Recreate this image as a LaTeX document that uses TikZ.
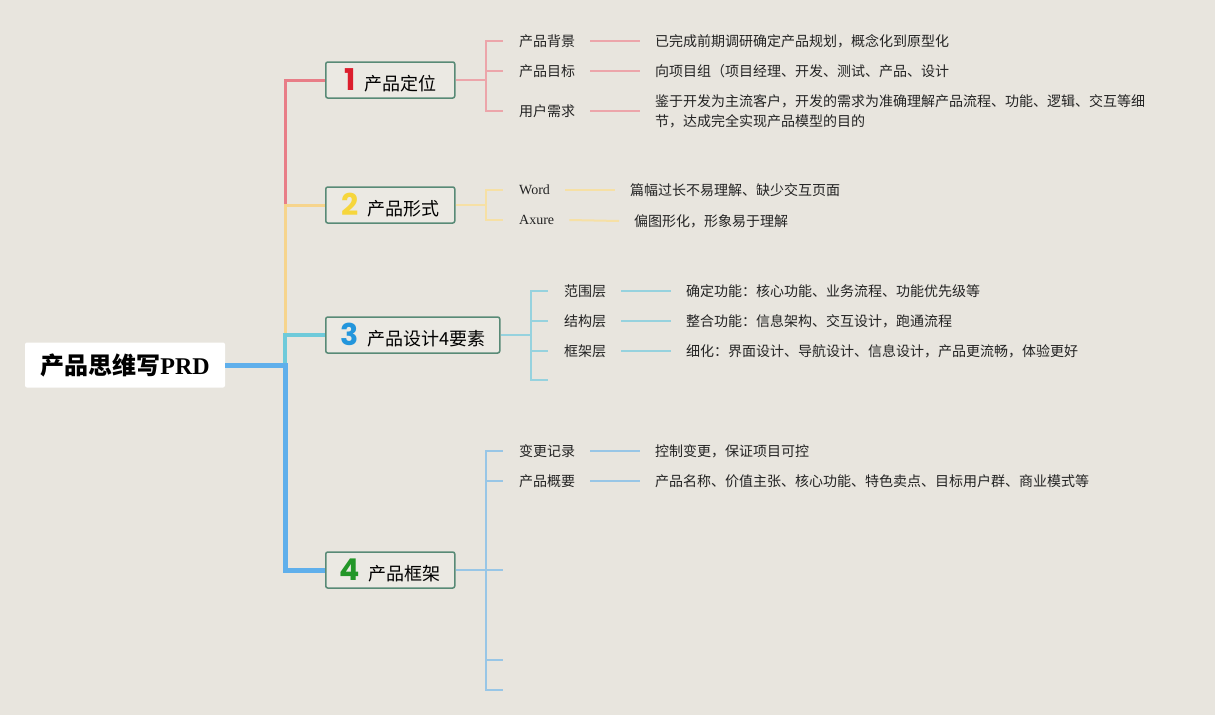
\documentclass[tikz,border=0pt]{standalone}
\usepackage{fontspec}
\setmainfont{Noto Sans CJK SC}
\newfontfamily\latinSerif{Liberation Serif}
\newfontfamily\numFont{Poppins}

\definecolor{paperBg}{RGB}{232,229,222}
\definecolor{boxFill}{RGB}{235,233,227}
\definecolor{boxEdge}{RGB}{88,138,118}
\definecolor{inkGray}{RGB}{35,35,35}
\definecolor{trunkRedC}{RGB}{232,125,135}
\definecolor{trunkYellowC}{RGB}{246,212,140}
\definecolor{trunkCyanC}{RGB}{110,202,218}
\definecolor{trunkBlueC}{RGB}{95,175,235}
\definecolor{twigRedC}{RGB}{236,165,170}
\definecolor{twigYellowC}{RGB}{246,224,165}
\definecolor{twigCyanC}{RGB}{150,210,222}
\definecolor{twigBlueC}{RGB}{152,198,230}
\definecolor{numRed}{RGB}{220,30,45}
\definecolor{numYellow}{RGB}{246,214,60}
\definecolor{numBlue}{RGB}{35,150,220}
\definecolor{numGreen}{RGB}{35,150,40}

\newcommand{\topicNum}[2]{{\numFont\bfseries\fontsize{30}{30}\selectfont\color{#1}#2}\hspace{9pt}}

\begin{document}
\begin{tikzpicture}[
        x=1pt, y=-1pt,
        every node/.style={font=\fontsize{14}{20}\selectfont, inner sep=0pt, text=inkGray},
        rootBox/.style={fill=white, rounded corners=2pt, minimum width=200pt, minimum height=45pt,
            font=\fontsize{24}{24}\selectfont\bfseries, text=black},
        topicBox/.style={draw=boxEdge, fill=boxFill, line width=1.5pt, rounded corners=2pt,
            anchor=west, minimum height=36pt, font=\fontsize{18}{18}\selectfont, text=black},
        leafText/.style={anchor=west},
        noteText/.style={anchor=west, align=left},
        trunkRed/.style={trunkRedC, line width=3pt},
        trunkYellow/.style={trunkYellowC, line width=3pt},
        trunkCyan/.style={trunkCyanC, line width=4pt},
        trunkBlue/.style={trunkBlueC, line width=5pt},
        twigRed/.style={twigRedC, line width=2pt},
        twigYellow/.style={twigYellowC, line width=2pt},
        twigCyan/.style={twigCyanC, line width=2pt},
        twigBlue/.style={twigBlueC, line width=2pt}
    ]
        \fill[paperBg] (0,0) rectangle (1215,715);
        \useasboundingbox (0,0) rectangle (1215,715);

        % Root and the four topics
        \node[rootBox] (root) at (125,365) {产品思维写{\latinSerif PRD}};
        \node[topicBox, minimum width=129pt] (posBox) at (325,80) {\topicNum{numRed}{1}产品定位};
        \node[topicBox, minimum width=129pt] (formBox) at (325,205) {\topicNum{numYellow}{2}产品形式};
        \node[topicBox, minimum width=174pt] (designBox) at (325,335) {\topicNum{numBlue}{3}产品设计4要素};
        \node[topicBox, minimum width=129pt] (frameBox) at (325,570) {\topicNum{numGreen}{4}产品框架};

        % Trunk, drawn back to front
        \coordinate (fork) at (285,365);
        \draw[trunkRed] (fork) |- (posBox.west);
        \draw[trunkYellow] (fork) |- (formBox.west);
        \draw[trunkCyan] (fork) |- (designBox.west);
        \draw[trunkBlue] (root.east) -- (fork) |- (frameBox.west);

        % 1 产品定位
        \node[leafText] (bgLeaf) at (519,41) {产品背景};
        \node[leafText] (goalLeaf) at (519,71) {产品目标};
        \node[leafText] (userLeaf) at (519,111) {用户需求};
        \node[noteText] (bgNote) at (655,41) {已完成前期调研确定产品规划，概念化到原型化};
        \node[noteText] (goalNote) at (655,71) {向项目组（项目经理、开发、测试、产品、设计};
        \node[noteText] (userNote) at (655,111) {鉴于开发为主流客户，开发的需求为准确理解产品流程、功能、逻辑、交互等细\\节，达成完全实现产品模型的目的};
        \draw[twigRed] (posBox.east) -- ++(30,0) coordinate (posFork);
        \foreach \leaf/\note in {bgLeaf/bgNote, goalLeaf/goalNote, userLeaf/userNote} {
            \draw[twigRed] (posFork) |- ([xshift=-16pt]\leaf.west);
            \draw[twigRed] ([xshift=15pt]\leaf.east) -- ([xshift=-15pt]\note.west);
        }

        % 2 产品形式
        \node[leafText, font=\latinSerif\fontsize{14}{14}\selectfont] (wordLeaf) at (519,190) {Word};
        \node[leafText, font=\latinSerif\fontsize{14}{14}\selectfont] (axureLeaf) at (519,220) {Axure};
        \node[noteText] (wordNote) at (630,190) {篇幅过长不易理解、缺少交互页面};
        \node[noteText] (axureNote) at (634,221) {偏图形化，形象易于理解};
        \draw[twigYellow] (formBox.east) -- ++(30,0) coordinate (formFork);
        \foreach \leaf/\note in {wordLeaf/wordNote, axureLeaf/axureNote} {
            \draw[twigYellow] (formFork) |- ([xshift=-16pt]\leaf.west);
            \draw[twigYellow] ([xshift=15pt]\leaf.east) -- ([xshift=-15pt]\note.west);
        }

        % 3 产品设计4要素
        \node[leafText] (scopeLeaf) at (564,291) {范围层};
        \node[leafText] (structLeaf) at (564,321) {结构层};
        \node[leafText] (skelLeaf) at (564,351) {框架层};
        \node[noteText] (scopeNote) at (686,291) {确定功能：核心功能、业务流程、功能优先级等};
        \node[noteText] (structNote) at (686,321) {整合功能：信息架构、交互设计，跑通流程};
        \node[noteText] (skelNote) at (686,351) {细化：界面设计、导航设计、信息设计，产品更流畅，体验更好};
        \draw[twigCyan] (designBox.east) -- ++(30,0) coordinate (designFork);
        \foreach \leaf/\note in {scopeLeaf/scopeNote, structLeaf/structNote, skelLeaf/skelNote} {
            \draw[twigCyan] (designFork) |- ([xshift=-16pt]\leaf.west);
            \draw[twigCyan] ([xshift=15pt]\leaf.east) -- ([xshift=-15pt]\note.west);
        }
        \coordinate (designStub) at (548,380);
        \draw[twigCyan] (designFork) |- (designStub);

        % 4 产品框架
        \node[leafText] (logLeaf) at (519,451) {变更记录};
        \node[leafText] (summaryLeaf) at (519,481) {产品概要};
        \node[noteText] (logNote) at (655,451) {控制变更，保证项目可控};
        \node[noteText] (summaryNote) at (655,481) {产品名称、价值主张、核心功能、特色卖点、目标用户群、商业模式等};
        \draw[twigBlue] (frameBox.east) -- ++(30,0) coordinate (frameFork);
        \foreach \leaf/\note in {logLeaf/logNote, summaryLeaf/summaryNote} {
            \draw[twigBlue] (frameFork) |- ([xshift=-16pt]\leaf.west);
            \draw[twigBlue] ([xshift=15pt]\leaf.east) -- ([xshift=-15pt]\note.west);
        }
        \foreach \y in {570,660,690} {
            \draw[twigBlue] (frameFork) |- (503,\y) coordinate (frameStub\y);
        }

\end{tikzpicture}
\end{document}
